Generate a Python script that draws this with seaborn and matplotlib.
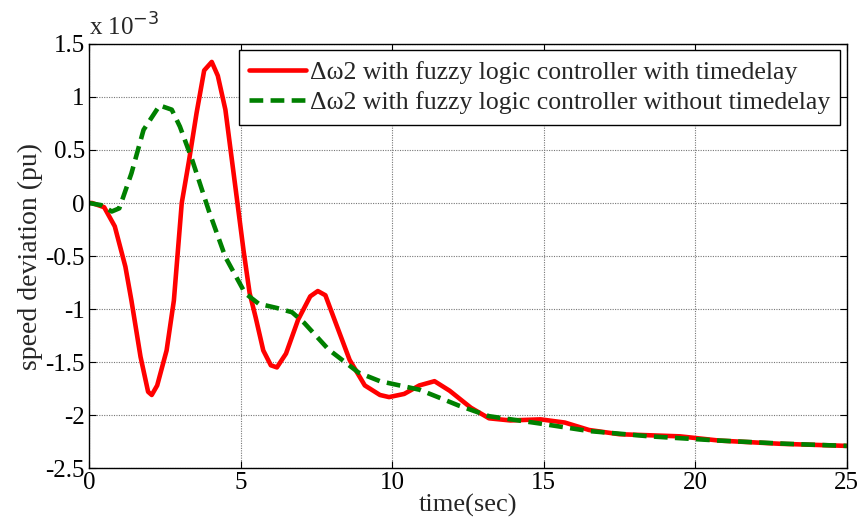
import numpy as np
import pandas as pd
import matplotlib
matplotlib.use("Agg")
import matplotlib.pyplot as plt
import seaborn as sns

# values in units of 1e-3 pu
t_red = [0, 0.1, 0.5, 0.85, 1.2, 1.4, 1.7, 1.95, 2.07, 2.25, 2.56, 2.8, 3.06, 3.3, 3.55, 3.8, 4.05, 4.25, 4.5, 4.83, 5.1, 5.3, 5.5, 5.75, 6.0, 6.2, 6.5, 6.9, 7.3, 7.55, 7.8, 8.1, 8.6, 9.1, 9.6, 9.9, 10.4, 10.9, 11.4, 11.9, 12.6, 13.2, 13.9, 14.9, 15.7, 16.5, 17.5, 18.5, 19.5, 20.8, 22.8, 25]
y_red = [0, 0, -0.04, -0.22, -0.6, -0.92, -1.45, -1.78, -1.81, -1.72, -1.39, -0.92, 0.0, 0.4, 0.85, 1.25, 1.33, 1.2, 0.88, 0.15, -0.45, -0.85, -1.08, -1.39, -1.53, -1.55, -1.42, -1.1, -0.88, -0.83, -0.87, -1.1, -1.48, -1.72, -1.81, -1.83, -1.8, -1.72, -1.68, -1.77, -1.93, -2.03, -2.05, -2.04, -2.07, -2.14, -2.18, -2.19, -2.2, -2.24, -2.27, -2.29]

t_green = [0, 0.4, 0.75, 1.0, 1.4, 1.8, 2.33, 2.73, 3.0, 3.4, 3.95, 4.5, 5.15, 5.6, 6.2, 6.7, 7.1, 7.9, 8.9, 9.6, 10.25, 10.9, 11.6, 12.2, 13.2, 14.9, 16.5, 18.5, 20.8, 23.0, 25]
y_green = [0, -0.02, -0.08, -0.05, 0.28, 0.69, 0.92, 0.88, 0.72, 0.41, -0.07, -0.51, -0.85, -0.95, -0.99, -1.03, -1.13, -1.38, -1.6, -1.68, -1.72, -1.76, -1.84, -1.91, -2.01, -2.08, -2.15, -2.2, -2.24, -2.27, -2.29]

label_red = "\u0394\u03c92 with fuzzy logic controller with timedelay"
label_green = "\u0394\u03c92 with fuzzy logic controller without timedelay"
x_ticks = [0, 5, 10, 15, 20, 25]
y_ticks = [-2.5, -2, -1.5, -1, -0.5, 0, 0.5, 1, 1.5]
y_tick_labels = ["-2.5", "-2", "-1.5", "-1", "-0.5", "0", "0.5", "1", "1.5"]

sns.set_theme(style="white")
plt.rcParams['font.family'] = ['Liberation Serif', 'DejaVu Serif']

fig = plt.figure(figsize=(8.6, 5.29), dpi=100)
ax = fig.add_axes([0.1035, 0.115, 0.881, 0.802])

df_r = pd.DataFrame({"t": t_red, "y": y_red})
df_g = pd.DataFrame({"t": t_green, "y": y_green})
sns.lineplot(data=df_r, x="t", y="y", ax=ax, color="#ff0000", lw=3.3, label=label_red)
sns.lineplot(data=df_g, x="t", y="y", ax=ax, color="#008000", lw=3.3, label=label_green)
ax.lines[1].set_dashes([3.0, 1.6])

ax.set_xlim(0, 25)
ax.set_ylim(-2.5, 1.5)
ax.set_xticks(x_ticks)
ax.set_yticks(y_ticks)
ax.set_yticklabels(y_tick_labels)
ax.grid(True, color="#777777", linestyle=(0, (1, 1.2)), linewidth=0.8)
for s in ax.spines.values():
    s.set_color("black")
    s.set_linewidth(1.0)
ax.tick_params(direction="in", length=5, width=0.8, labelsize=18, colors="black",
               top=True, right=True, bottom=True, left=True, pad=3)
ax.set_xlabel("time(sec)", fontsize=19, labelpad=0)
ax.set_ylabel("speed deviation (pu)", fontsize=20, labelpad=2)
ax.text(0.0, 1.008, "x 10$^{-3}$", transform=ax.transAxes, fontsize=18,
        ha="left", va="bottom")

leg = ax.legend(loc="upper right", fontsize=18.5, frameon=True, fancybox=False,
                handlelength=2.2, handletextpad=0.15, borderpad=0.4,
                labelspacing=0.3, borderaxespad=0.25)
leg.get_frame().set_edgecolor("black")
leg.get_frame().set_linewidth(1.0)
leg.get_frame().set_alpha(1.0)

fig.savefig("out.png", dpi=100, facecolor="white")
